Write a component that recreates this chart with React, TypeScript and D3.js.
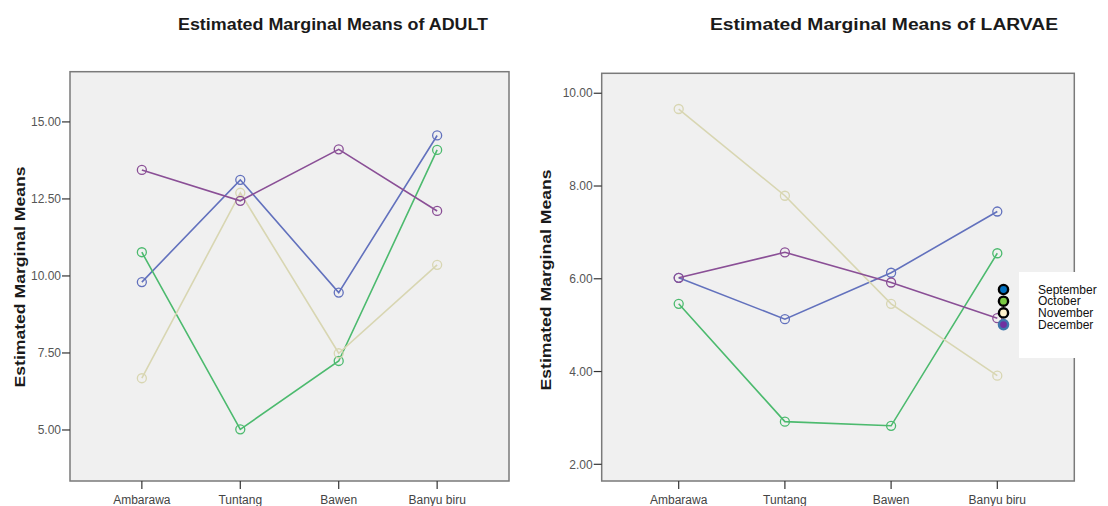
import React from "react";
import * as d3 from "d3";

const sites = ["Ambarawa", "Tuntang", "Bawen", "Banyu biru"];
const months = ["September", "October", "November", "December"];

const adultSeptember = [9.8, 13.12, 9.46, 14.56];
const adultOctober = [10.77, 5.02, 7.24, 14.09];
const adultNovember = [6.68, 12.7, 7.49, 10.36];
const adultDecember = [13.44, 12.44, 14.11, 12.11];

const larvaeSeptember = [6.02, 5.13, 6.13, 7.45];
const larvaeOctober = [5.46, 2.92, 2.83, 6.55];
const larvaeNovember = [9.66, 7.79, 5.46, 3.91];
const larvaeDecember = [6.02, 6.57, 5.92, 5.15];

const adultTicks = [5, 7.5, 10, 12.5, 15];
const larvaeTicks = [2, 4, 6, 8, 10];

const lineColors = ["#6271bd", "#4cba6e", "#d8d6b2", "#8a4f96"];
const legendFill = ["#0070c0", "#7ac943", "#fff2cc", "#7030a0"];
const legendStroke = ["#000", "#000", "#000", "#3f76ad"];

const FONT = "Liberation Sans, Arial, sans-serif";

type PanelProps = {
  title: string;
  titleX: number;
  titleLen: number;
  series: number[][];
  ticks: number[];
  domain: [number, number];
  left: number;
  right: number;
  top: number;
  bottom: number;
  padding: number;
  labelX: number;
  labelY: number;
};

function Panel(p: PanelProps) {
  const x = d3.scalePoint<string>().domain(sites).range([p.left, p.right]).padding(p.padding);
  const y = d3.scaleLinear().domain(p.domain).range([p.bottom, p.top]);
  const line = d3
    .line<number>()
    .x((_, i) => x(sites[i]) as number)
    .y((d) => y(d));
  return (
    <g>
      <text
        x={p.titleX}
        y={30}
        textAnchor="middle"
        fontFamily={FONT}
        fontWeight="bold"
        fontSize={16}
        fill="#1a1a1a"
        textLength={p.titleLen}
        lengthAdjust="spacingAndGlyphs"
      >
        {p.title}
      </text>
      <rect x={p.left} y={p.top} width={p.right - p.left} height={p.bottom - p.top} fill="#f0f0f0" stroke="#7a7a7a" strokeWidth={1.5} />
      {p.ticks.map((t) => (
        <g key={t}>
          <line x1={p.left - 8} x2={p.left} y1={y(t)} y2={y(t)} stroke="#333" strokeWidth={1.2} />
          <text x={p.left - 9} y={y(t)} dy="0.35em" textAnchor="end" fontFamily={FONT} fontSize={12} fill="#555">
            {t.toFixed(2)}
          </text>
        </g>
      ))}
      {sites.map((s) => (
        <g key={s}>
          <line x1={x(s)} x2={x(s)} y1={p.bottom} y2={p.bottom + 8} stroke="#333" strokeWidth={1.2} />
          <text x={x(s)} y={p.bottom + 23} textAnchor="middle" fontFamily={FONT} fontSize={12} fill="#444">
            {s}
          </text>
        </g>
      ))}
      <text
        transform={`translate(${p.labelX},${p.labelY}) rotate(-90)`}
        textAnchor="middle"
        fontFamily={FONT}
        fontWeight="bold"
        fontSize={15.5}
        fill="#1a1a1a"
        textLength={221}
        lengthAdjust="spacingAndGlyphs"
      >
        Estimated Marginal Means
      </text>
      {p.series.map((vals, si) => (
        <g key={si}>
          <path d={line(vals) || ""} fill="none" stroke={lineColors[si]} strokeWidth={1.6} />
          {vals.map((v, i) => (
            <circle key={i} cx={x(sites[i])} cy={y(v)} r={4.5} fill="none" stroke={lineColors[si]} strokeWidth={1.3} />
          ))}
        </g>
      ))}
    </g>
  );
}

export default function App() {
  return (
    <svg width={1108} height={506} style={{ position: "absolute", left: 0, top: 0, background: "#fff" }}>
      <Panel
        title="Estimated Marginal Means of ADULT"
        titleX={333}
        titleLen={310}
        series={[adultSeptember, adultOctober, adultNovember, adultDecember]}
        ticks={adultTicks}
        domain={[3.344, 16.63]}
        left={70}
        right={509}
        top={71.7}
        bottom={481}
        padding={0.73}
        labelX={25}
        labelY={277}
      />
      <Panel
        title="Estimated Marginal Means of LARVAE"
        titleX={884}
        titleLen={348}
        series={[larvaeSeptember, larvaeOctober, larvaeNovember, larvaeDecember]}
        ticks={larvaeTicks}
        domain={[1.64, 10.43]}
        left={601.7}
        right={1074.3}
        top={73.3}
        bottom={481}
        padding={0.725}
        labelX={551}
        labelY={280}
      />
      <rect x={1019} y={272} width={89} height={86} fill="#fff" />
      {months.map((m, i) => (
        <g key={m}>
          <circle cx={1003.5} cy={289.5 + i * 11.7} r={4.6} fill={legendFill[i]} stroke={legendStroke[i]} strokeWidth={2.4} />
          <text x={1038} y={289.5 + i * 11.7} dy="0.35em" fontFamily={FONT} fontSize={12} fill="#111">
            {m}
          </text>
        </g>
      ))}
    </svg>
  );
}
